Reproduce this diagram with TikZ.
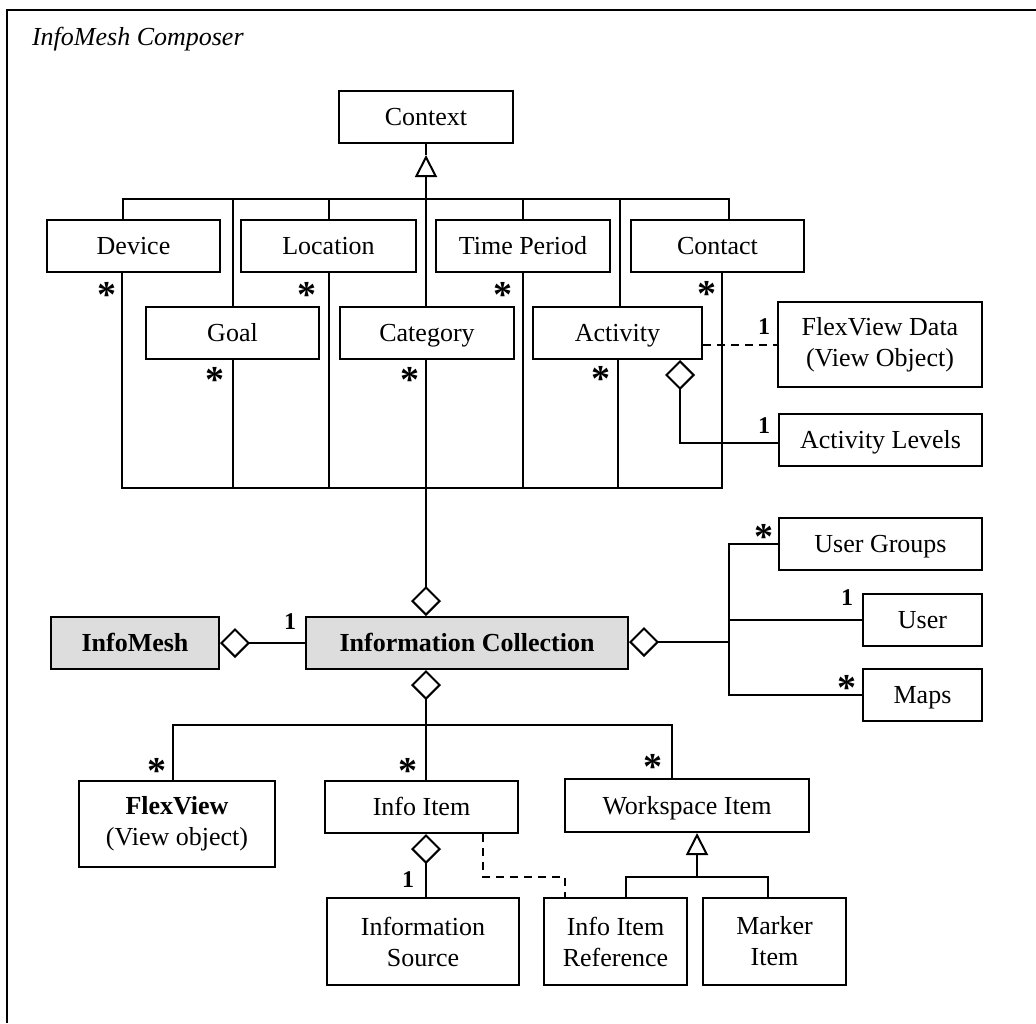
\documentclass[tikz,border=0pt]{standalone}
\usepackage{fontspec}
\setmainfont{Liberation Serif}
\usetikzlibrary{arrows.meta}
\definecolor{hubfill}{RGB}{221,221,221}
\begin{document}
\begin{tikzpicture}[x=0.5pt,y=-0.5pt,
  every node/.style={font=\fontsize{13}{15.5}\selectfont},
  cls/.style={draw, line width=1pt, inner sep=0pt, align=center, minimum height=26pt},
  single/.style={cls, text height=8.8pt, text depth=0pt},
  hub/.style={single, fill=hubfill, font=\fontsize{13}{15.5}\selectfont\bfseries},
  conn/.style={line width=1pt},
  agg/.style={conn, -{Diamond[open,length=15pt,width=15pt]}},
  gen/.style={conn, -{Triangle[open,length=11pt,width=11pt]}},
  dep/.style={conn, dash pattern=on 4pt off 3pt},
  many/.style={inner sep=0pt, font=\fontsize{19}{19}\selectfont\bfseries},
  one/.style={inner sep=0pt, font=\fontsize{12}{12}\selectfont\bfseries},
]
\useasboundingbox (0,0) rectangle (1036,1023);

% package frame (only its top and left edges fall inside the page)
\draw[line width=1pt] (7,1023) -- (7,10) -- (1036,10);
\node[anchor=base west, font=\fontsize{13}{15.5}\selectfont\itshape] (title) at (25,45) {InfoMesh Composer};

% context hierarchy
\node[single, minimum width=87pt] (Context) at (426,116.5) {Context};
\node[single, minimum width=86.5pt] (Device) at (133.5,246) {Device};
\node[single, minimum width=87.5pt] (Location) at (328.5,246) {Location};
\node[single, minimum width=87pt] (TimePeriod) at (523,246) {Time Period};
\node[single, minimum width=86.5pt] (Contact) at (717.5,246) {Contact};
\node[single, minimum width=86.5pt] (Goal) at (232.5,333) {Goal};
\node[single, minimum width=87pt] (Category) at (427,333) {Category};
\node[single, minimum width=84.5pt] (Activity) at (617.5,333) {Activity};

\node[cls, minimum width=102pt, minimum height=42.5pt] (FlexData) at (880,344.5) {FlexView Data\\(View Object)};
\node[single, minimum width=101.5pt] (ActLevels) at (880.5,440) {Activity Levels};

% central classes
\node[hub, minimum width=161pt] (IC) at (467,643) {Information Collection};
\node[hub, minimum width=84pt] (InfoMesh) at (135,643) {InfoMesh};

\node[single, minimum width=101.5pt] (UserGroups) at (880.5,544) {User Groups};
\node[single, minimum width=59.5pt] (User) at (922.5,620) {User};
\node[single, minimum width=59.5pt] (Maps) at (922.5,695) {Maps};

% items
\node[cls, minimum width=98pt, minimum height=43pt] (FlexView) at (177,824) {\textbf{FlexView}\\(View object)};
\node[single, minimum width=96.5pt] (InfoItem) at (421.5,807) {Info Item};
\node[single, minimum width=122pt, minimum height=26.5pt] (Workspace) at (687,805.5) {Workspace Item};
\node[cls, minimum width=96pt, minimum height=43.5pt] (InfoSource) at (423,941.5) {Information\\Source};
\node[cls, minimum width=71.5pt, minimum height=43.5pt] (InfoRef) at (615.5,941.5) {Info Item\\Reference};
\node[cls, minimum width=71.5pt, minimum height=43.5pt] (Marker) at (774.5,941.5) {Marker\\Item};

% junction points
\coordinate (ctip) at (426,155);
\coordinate (tb) at (426,199);
\coordinate (bb) at (426,488);
\coordinate (rj) at (729,642);
\coordinate (lb) at (426,725);
\coordinate (wj) at (697,877);

% generalisation of Context
\draw[conn] (Context.south -| ctip) -- (ctip);
\draw[gen] (Category.north -| ctip) -- (ctip);
\draw[conn] ([xshift=-5.25pt]Device.north) |- (tb) -| ([xshift=5.75pt]Contact.north);
\draw[conn] (Goal.north) -- (Goal.north |- tb);
\draw[conn] (Location.north) -- (Location.north |- tb);
\draw[conn] (TimePeriod.north) -- (TimePeriod.north |- tb);
\draw[conn] ([xshift=1.25pt]Activity.north) -- ([xshift=1.25pt]Activity.north |- tb);

% contexts aggregated by the collection
\draw[conn] ([xshift=-5.75pt]Device.south) |- (bb) -| ([xshift=2.25pt]Contact.south);
\draw[conn] (Goal.south) -- (Goal.south |- bb);
\draw[conn] (Location.south) -- (Location.south |- bb);
\draw[conn] (Category.south -| bb) -- (bb);
\draw[conn] (TimePeriod.south) -- (TimePeriod.south |- bb);
\draw[conn] (Activity.south) -- (Activity.south |- bb);
\draw[agg] (bb) -- (IC.north -| bb);

% activity associations
\draw[dep] (FlexData.west -| Activity.east) -- (FlexData.west);
\draw[agg] ([yshift=-1.5pt]ActLevels.west) -| ([xshift=31.25pt]Activity.south);

% InfoMesh owns the collection
\draw[agg] (IC.west) -- (InfoMesh.east);

% users and maps
\draw[agg] (rj) -- (IC.east |- rj);
\draw[conn] (UserGroups.west) -- (UserGroups.west -| rj) -- (Maps.west -| rj) -- (Maps.west);
\draw[conn] (User.west) -- (User.west -| rj);

% items of the collection
\draw[agg] (lb) -- (IC.south -| lb);
\draw[conn] ([xshift=-2pt]FlexView.north) |- (lb) -| ([xshift=-7.5pt]Workspace.north);
\draw[conn] (lb) -- (InfoItem.north -| lb);
\draw[agg] (InfoSource.north -| lb) -- (InfoItem.south -| lb);
\draw[dep] ([xshift=30.75pt]InfoItem.south) -- ++(0,-21.5pt) -| ([xshift=-25.25pt]InfoRef.north);
\draw[gen] (wj) -- ([xshift=5pt]Workspace.south);
\draw[conn] ([xshift=5.25pt]InfoRef.north) |- (wj) -| ([xshift=-3.25pt]Marker.north);

% multiplicities
\node[many] (mDev) at (107,295) {*};
\node[many] (mLoc) at (307,295) {*};
\node[many] (mTim) at (503,295) {*};
\node[many] (mCon) at (707,294) {*};
\node[many] (mGoa) at (215,380) {*};
\node[many] (mCat) at (410,380) {*};
\node[many] (mAct) at (601,379) {*};
\node[many] (mUG) at (764,537) {*};
\node[many] (mMap) at (847,688) {*};
\node[many] (mFV) at (157,771) {*};
\node[many] (mII) at (408,771) {*};
\node[many] (mWI) at (653,767) {*};
\node[one] (oFD) at (764,327) {1};
\node[one] (oAL) at (764,426) {1};
\node[one] (oIM) at (290,622) {1};
\node[one] (oUs) at (847,598) {1};
\node[one] (oIS) at (408,880) {1};
\end{tikzpicture}
\end{document}
